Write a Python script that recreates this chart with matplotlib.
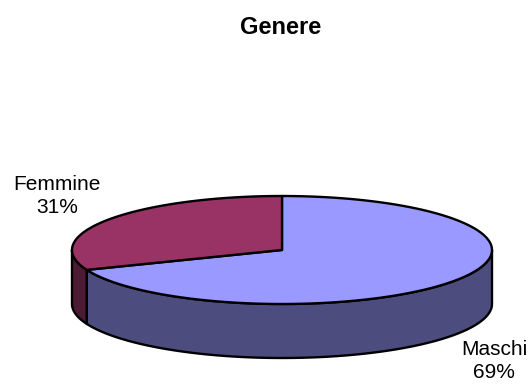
import numpy as np
import matplotlib.pyplot as plt
from matplotlib.patches import Polygon

plt.rcParams['font.family'] = ['Liberation Sans', 'DejaVu Sans']

# gender split
labels = ['Maschi', 'Femmine']
values = [69, 31]
top_colors = ['#9999FF', '#993366']
side_colors = ['#4C4C7F', '#4D1A33']

fig = plt.figure(figsize=(5.32, 3.85), dpi=100)
ax = fig.add_axes([0, 0, 1, 1])
ax.set_xlim(0, 532)
ax.set_ylim(385, 0)
ax.axis('off')

# pseudo-3d pie geometry (pixel units)
cx, cy = 282, 250
rx, ry = 210, 54
depth = 54


def rim(a0, a1, n=120, dy=0):
    t = np.radians(np.linspace(a0, a1, n))
    return np.column_stack([cx + rx * np.cos(t), cy - ry * np.sin(t) + dy])


total = sum(values)
# slices start at 12 o'clock; first goes clockwise, so work with angles
angles = []
start = 90
for v in values:
    sweep = 360 * v / total
    angles.append((start - sweep, start))
    start -= sweep

# side walls (only the front half, 180..360 deg, is visible)
for (a0, a1), col in zip(angles, side_colors):
    for lo, hi in [(a0, a1), (a0 + 360, a1 + 360), (a0 - 360, a1 - 360)]:
        s, e = max(lo, 180), min(hi, 360)
        if e <= s:
            continue
        top = rim(s, e)
        bot = rim(e, s, dy=depth)
        ax.add_patch(Polygon(np.vstack([top, bot]), closed=True, fc=col,
                             ec='black', lw=1.7, joinstyle='round'))

# top faces
for (a0, a1), col in zip(angles, top_colors):
    pts = np.vstack([[cx, cy], rim(a0, a1), [cx, cy]])
    ax.add_patch(Polygon(pts, closed=True, fc=col, ec='black', lw=1.7,
                         joinstyle='round'))

# labels
pct = [round(100 * v / total) for v in values]
ax.text(494, 361, f'{labels[0]}\n{pct[0]}%', ha='center', va='center',
        fontsize=15, linespacing=1.3)
ax.text(57, 196, f'{labels[1]}\n{pct[1]}%', ha='center', va='center',
        fontsize=15, linespacing=1.3)

ax.text(281, 27, 'Genere', ha='center', va='center', fontsize=17,
        fontweight='bold')

fig.savefig('out.png', dpi=100)
